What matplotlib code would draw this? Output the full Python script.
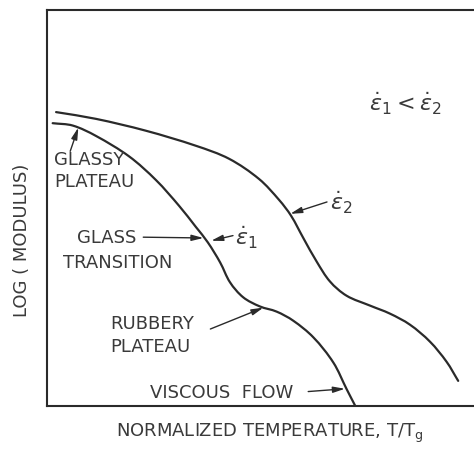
import numpy as np
import matplotlib
matplotlib.use('Agg')
import matplotlib.pyplot as plt
from matplotlib.path import Path
from matplotlib.patches import PathPatch

plt.rcParams['font.family'] = ['DejaVu Sans']
plt.rcParams['mathtext.fontset'] = 'dejavusans'

# curve for strain rate 1 (lower / faster-dropping curve), arbitrary units 0-100
t_rate1 = [1.4, 6.1, 11.5, 19.3, 25.6, 31.0, 34.9, 37.7, 40.6, 42.9, 46.0,
           49.9, 53.8, 57.7, 62.4, 67.1, 70.2, 72.2]
logE_rate1 = [71.4, 70.8, 68.2, 63.0, 57.0, 50.5, 45.2, 41.3, 36.2, 31.2, 27.4,
              25.1, 23.8, 21.5, 17.3, 10.9, 4.2, 0.0]

# curve for strain rate 2
t_rate2 = [2.2, 11.5, 23.2, 34.9, 42.7, 49.7, 54.4, 57.2, 60.1, 63.2, 66.3,
           70.2, 75.7, 80.3, 85.0, 89.7, 93.6, 96.3]
logE_rate2 = [74.2, 72.5, 69.5, 65.7, 62.4, 57.3, 52.0, 48.0, 42.3, 36.4, 31.4,
              27.8, 25.3, 23.3, 20.5, 16.2, 11.1, 6.3]

ink = '#2a2a2a'
txt = '#3a3a3a'


def smooth_path(x, y):
    # chord-length Catmull-Rom through the read points, as cubic Beziers
    p = np.column_stack([x, y])
    n = len(p)
    t = np.concatenate([[0], np.cumsum(np.hypot(*np.diff(p, axis=0).T))])
    m = np.zeros_like(p)
    for i in range(n):
        a, b = max(i - 1, 0), min(i + 1, n - 1)
        m[i] = (p[b] - p[a]) / (t[b] - t[a])
    verts = [p[0]]
    codes = [Path.MOVETO]
    for i in range(n - 1):
        h = t[i + 1] - t[i]
        verts += [p[i] + m[i] * h / 3, p[i + 1] - m[i + 1] * h / 3, p[i + 1]]
        codes += [Path.CURVE4] * 3
    return Path(verts, codes)


fig = plt.figure(figsize=(4.74, 4.52), dpi=100)
ax = fig.add_axes([0.0985, 0.100, 0.9015, 0.8757])

for xs, ys in [(t_rate1, logE_rate1), (t_rate2, logE_rate2)]:
    ax.add_patch(PathPatch(smooth_path(xs, ys), fill=False, edgecolor=ink,
                           lw=1.6, capstyle='round', joinstyle='round'))

ax.set_xlim(0, 100)
ax.set_ylim(0, 100)
ax.set_xticks([])
ax.set_yticks([])
ax.spines['right'].set_visible(False)
for s in ['left', 'top', 'bottom']:
    ax.spines[s].set_linewidth(1.5)
    ax.spines[s].set_color(ink)

fs = 13
arrow = dict(arrowstyle='-|>,head_length=0.7,head_width=0.18', color=ink,
             lw=1.0, shrinkA=0, shrinkB=0)

def arr(tail, head):
    ax.annotate('', xy=head, xytext=tail, arrowprops=arrow)

# labels
ax.text(1.7, 59.6, 'GLASSY\nPLATEAU', fontsize=fs, color=txt, ha='left',
        va='center', linespacing=1.3)
arr((5.5, 64.3), (7.4, 70.3))

ax.text(14.1, 42.6, 'GLASS', fontsize=fs, color=txt, ha='center', va='center')
ax.text(16.6, 36.3, 'TRANSITION', fontsize=fs, color=txt, ha='center', va='center')
arr((22.6, 42.6), (36.7, 42.4))

ax.text(44.0, 42.6, r'$\dot{\epsilon}_1$', fontsize=fs + 3, color=txt,
        ha='left', va='center')
arr((43.6, 43.0), (38.5, 41.7))

ax.text(66.2, 51.5, r'$\dot{\epsilon}_2$', fontsize=fs + 3, color=txt,
        ha='left', va='center')
arr((65.6, 51.5), (57.0, 48.5))

ax.text(14.8, 18.0, 'RUBBERY\nPLATEAU', fontsize=fs, color=txt, ha='left',
        va='center', linespacing=1.3)
arr((38.3, 19.4), (50.7, 24.8))

ax.text(24.2, 3.6, 'VISCOUS  FLOW', fontsize=fs, color=txt, ha='left',
        va='center')
arr((61.2, 3.6), (69.8, 4.3))

ax.text(75.4, 76.5, r'$\dot{\epsilon}_1 < \dot{\epsilon}_2$', fontsize=fs + 3,
        color=txt, ha='left', va='center')

fig.text(0.046, 0.469, 'LOG ( MODULUS)', rotation=90, fontsize=fs, color=txt,
         ha='center', va='center')
fig.text(0.57, 0.042, r'NORMALIZED TEMPERATURE, T/T$_\mathrm{g}$', fontsize=fs,
         color=txt, ha='center', va='center')

fig.savefig('out.png', dpi=100)
